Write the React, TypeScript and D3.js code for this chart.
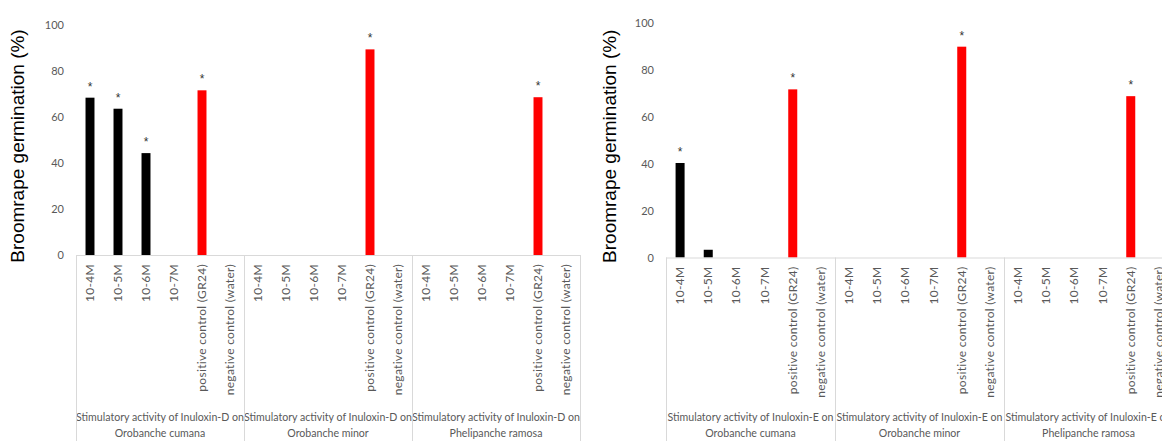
import React from "react";
import * as d3 from "d3";

const categories = ["10-4M", "10-5M", "10-6M", "10-7M", "positive control (GR24)", "negative control (water)"];
const yTicks = [0, 20, 40, 60, 80, 100];

const groupsD = [
  ["Stimulatory activity of Inuloxin-D on", "Orobanche cumana"],
  ["Stimulatory activity of Inuloxin-D on", "Orobanche minor"],
  ["Stimulatory activity  of Inuloxin-D on", "Phelipanche ramosa"],
];
const groupsE = [
  ["Stimulatory activity of Inuloxin-E on", "Orobanche cumana"],
  ["Stimulatory activity  of Inuloxin-E on", "Orobanche minor"],
  ["Stimulatory activity  of Inuloxin-E on", "Phelipanche ramosa"],
];

const valuesD = [
  [68.4, 63.6, 44.3, 0, 71.6, 0],
  [0, 0, 0, 0, 89.4, 0],
  [0, 0, 0, 0, 68.6, 0],
];
const valuesE = [
  [40.3, 3.3, 0, 0, 71.7, 0],
  [0, 0, 0, 0, 89.9, 0],
  [0, 0, 0, 0, 68.8, 0],
];
const sigD = [
  [true, true, true, false, true, false],
  [false, false, false, false, true, false],
  [false, false, false, false, true, false],
];
const sigE = [
  [true, false, false, false, true, false],
  [false, false, false, false, true, false],
  [false, false, false, false, true, false],
];

const barColors = ["#000000", "#000000", "#000000", "#000000", "#ff0000", "#000000"];

const yTitle = "Broomrape germination (%)";

type PanelProps = {
  x0: number;
  groupW: number;
  y0: number;
  y100: number;
  titleX: number;
  groups: string[][];
  values: number[][];
  sig: boolean[][];
};

function Panel({ x0, groupW, y0, y100, titleX, groups, values, sig }: PanelProps) {
  const gx = d3.scaleBand<number>().domain(groups.map((_, i) => i)).range([x0, x0 + groupW * groups.length]).padding(0);
  const cx = d3.scaleBand<number>().domain(categories.map((_, i) => i)).range([0, groupW]).paddingInner(0.68).paddingOuter(0.34);
  const y = d3.scaleLinear().domain([0, 100]).range([y0, y100]);
  const xEnd = x0 + groupW * groups.length;
  const textColor = "#595959";
  const lineColor = "#d9d9d9";
  return (
    <g>
      <text
        transform={`translate(${titleX},${(y0 + y100) / 2 + 6}) rotate(-90)`}
        textAnchor="middle"
        fontFamily="'Liberation Sans', Arial, sans-serif"
        fontSize={19}
        fill="#000"
      >
        {yTitle}
      </text>
      {yTicks.map((t) => (
        <text key={t} x={x0 - 12} y={y(t) + 4} textAnchor="end" fontFamily="Lato, 'Open Sans', sans-serif" fontSize={11} fill={textColor}>
          {t}
        </text>
      ))}
      {groups.map((g, gi) => (
        <g key={gi}>
          {categories.map((c, ci) => {
            const v = values[gi][ci];
            const bx = (gx(gi) as number) + (cx(ci) as number);
            const bw = cx.bandwidth();
            return (
              <g key={ci}>
                {v > 0 && <rect x={bx} y={y(v)} width={bw} height={y(0) - y(v)} fill={barColors[ci]} />}
                {sig[gi][ci] && (
                  <text x={bx + bw / 2} y={y(v) - 7} textAnchor="middle" fontFamily="'Liberation Sans', Arial, sans-serif" fontSize={12} fill="#333">
                    *
                  </text>
                )}
                <text
                  transform={`translate(${bx + bw / 2 + 4},${y0 + 9}) rotate(-90)`}
                  textAnchor="end"
                  fontFamily="Lato, 'Open Sans', sans-serif"
                  fontSize={12}
                  letterSpacing={0.3}
                  fill={textColor}
                >
                  {c}
                </text>
              </g>
            );
          })}
          <text x={(gx(gi) as number) + groupW / 2} y={421} textAnchor="middle" fontFamily="Lato, 'Open Sans', sans-serif" fontSize={10.6} fill={textColor}>
            {g[0]}
          </text>
          <text x={(gx(gi) as number) + groupW / 2} y={437} textAnchor="middle" fontFamily="Lato, 'Open Sans', sans-serif" fontSize={10.6} fill={textColor}>
            {g[1]}
          </text>
        </g>
      ))}
      <line x1={x0} x2={xEnd} y1={y0 + 0.5} y2={y0 + 0.5} stroke={lineColor} strokeWidth={1} />
      {d3.range(groups.length + 1).map((i) => (
        <line key={i} x1={x0 + i * groupW + 0.5} x2={x0 + i * groupW + 0.5} y1={y0} y2={441} stroke={lineColor} strokeWidth={1} />
      ))}
    </g>
  );
}

export default function App() {
  return (
    <svg width={1162} height={441} style={{ position: "fixed", left: 0, top: 0, background: "#fff" }}>
      <rect width={1162} height={441} fill="#fff" />
      <Panel x0={76} groupW={168} y0={255} y100={25} titleX={24} groups={groupsD} values={valuesD} sig={sigD} />
      <Panel x0={666} groupW={169} y0={257.5} y100={23} titleX={616} groups={groupsE} values={valuesE} sig={sigE} />
    </svg>
  );
}
